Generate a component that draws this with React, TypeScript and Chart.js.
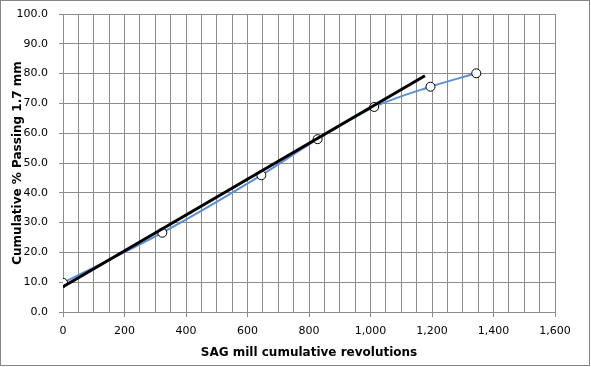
import React, { useEffect, useRef } from "react";
import { Chart, registerables } from "chart.js";
Chart.register(...registerables);

const revolutions = [0, 323, 645, 828, 1012, 1195, 1344];
const passing = [9.8, 26.6, 45.9, 58.0, 68.8, 75.6, 80.1];
const fitX = [0, 1177];
const fitY = [8.5, 79.3];
const xTitle = "SAG mill cumulative revolutions";
const yTitle = "Cumulative % Passing 1.7 mm";

const borderPlugin = {
  id: "outerBorder",
  afterDraw(chart: any) {
    const { ctx, width, height } = chart;
    ctx.save();
    ctx.strokeStyle = "#868686";
    ctx.lineWidth = 1;
    ctx.strokeRect(0.5, 0.5, width - 2, height - 2);
    ctx.restore();
  },
};

export default function App() {
  const ref = useRef<HTMLCanvasElement>(null);
  useEffect(() => {
    document.body.style.margin = "0";
    const chart = new Chart(ref.current!, {
      type: "scatter",
      data: {
        datasets: [
          {
            label: "fit",
            data: fitX.map((x, i) => ({ x, y: fitY[i] })),
            showLine: true,
            borderColor: "#000000",
            borderWidth: 3,
            pointRadius: 0,
            order: 1,
          },
          {
            label: "data",
            data: revolutions.map((x, i) => ({ x, y: passing[i] })),
            showLine: true,
            borderColor: "#5890D8",
            borderWidth: 2,
            tension: 0.4,
            cubicInterpolationMode: "monotone",
            pointRadius: 4.5,
            pointBackgroundColor: "#ffffff",
            pointBorderColor: "#000000",
            pointBorderWidth: 1,
            order: 2,
          },
        ],
      },
      options: {
        animation: false,
        responsive: false,
        layout: { padding: { left: 0, top: 14, right: 36, bottom: 0 } },
        plugins: { legend: { display: false }, tooltip: { enabled: false } },
        scales: {
          x: {
            type: "linear",
            min: 0,
            max: 1600,
            afterFit(s: any) { s.height = 55; },
            ticks: {
              stepSize: 50,
              autoSkip: false,
              maxRotation: 0,
              color: "#000",
              font: { family: "DejaVu Sans", size: 11 },
              padding: 8,
              callback: (v: any) => (Number(v) % 200 === 0 ? Number(v).toLocaleString("en-US") : ""),
            },
            grid: {
              color: "#8c8c8c",
              tickLength: 5,
              tickColor: (c: any) => (c.tick && c.tick.value % 200 === 0 ? "#8c8c8c" : "rgba(0,0,0,0)"),
            },
            border: { color: "#8c8c8c" },
            title: {
              display: true,
              text: xTitle,
              color: "#000",
              font: { family: "DejaVu Sans", size: 12, weight: "bold" },
              padding: { top: 2, bottom: 7 },
            },
          },
          y: {
            min: 0,
            max: 100,
            afterFit(s: any) { s.width = 63; s.paddingTop = 7; s.paddingBottom = 7; },
            ticks: {
              stepSize: 10,
              color: "#000",
              font: { family: "DejaVu Sans", size: 11 },
              padding: 11,
              callback: (v: any) => Number(v).toFixed(1),
            },
            grid: { color: "#8c8c8c", tickLength: 4 },
            border: { color: "#8c8c8c" },
            title: {
              display: true,
              text: yTitle,
              color: "#000",
              font: { family: "DejaVu Sans", size: 12, weight: "bold" },
              padding: { top: 11, bottom: 0 },
            },
          },
        },
      },
      plugins: [borderPlugin],
    } as any);
    return () => chart.destroy();
  }, []);
  return <canvas ref={ref} width={591} height={367} style={{ display: "block" }} />;
}
